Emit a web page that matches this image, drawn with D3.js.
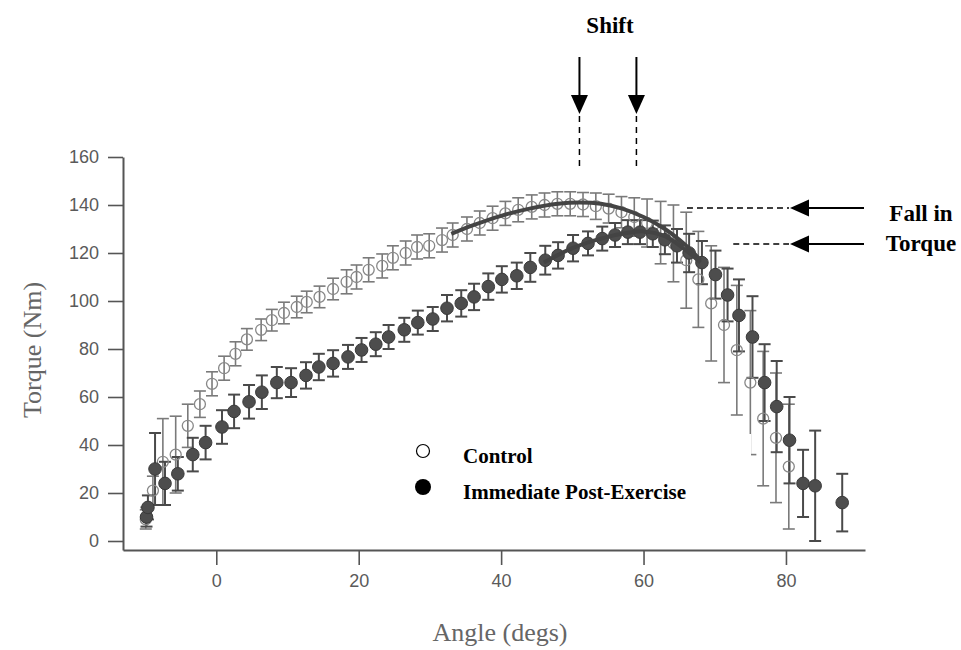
<!DOCTYPE html>
<html>
<head>
<meta charset="utf-8">
<script src="https://cdn.jsdelivr.net/npm/d3@7"></script>
<style>
  body { margin: 0; background: #fff; }
  svg { display: block; }
</style>
</head>
<body>
<svg class="view" width="961" height="650"></svg>
<script>
// Control (open circles): angle (degs), torque (Nm), error (Nm)
var controlAngle = [-9.9, -8.9, -7.5, -5.7, -4.0, -2.3, -0.6, 1.1, 2.7, 4.3, 6.3, 7.8, 9.5, 11.3, 12.7,
    14.5, 16.4, 18.3, 19.7, 21.4, 23.3, 24.8, 26.6, 28.2, 29.9, 31.7, 33.2, 35.2, 37.0, 38.8, 40.6,
    42.4, 44.3, 46.1, 47.9, 49.7, 51.5, 53.3, 55.1, 56.9, 58.7, 60.5, 62.4, 64.2, 66.0, 67.7, 69.5,
    71.3, 73.1, 75.0, 76.8, 78.6, 80.4];
var controlTorque = [9, 21, 33, 36, 48, 57, 65.5, 72, 78, 84, 88, 92, 95, 97.5, 99.6,
    101.7, 105, 108, 110, 113, 114.6, 118, 120, 122.5, 123, 125.4, 127.5, 130, 132.5, 134.5, 136.5,
    138, 139.2, 140, 140.5, 140.5, 140.2, 139.5, 138.5, 137, 135, 132.5, 128.5, 124, 117, 109, 99,
    90, 79.5, 66, 51, 43, 31];
var controlErr = [4, 6, 18, 16, 9, 5.5, 5, 5, 5, 4.5, 4.5, 4.5, 4.5, 4.5, 4.5,
    4.5, 4.5, 5, 5, 5, 5, 5, 5, 5, 5, 5, 5, 5, 5, 5, 5,
    5, 5, 5, 5, 5, 5, 5.5, 6, 6.5, 8, 10, 13, 16, 20, 20, 24,
    24, 27, 30, 28, 27, 26];

// Immediate post-exercise (filled circles)
var postAngle = [-9.8, -9.6, -8.6, -7.2, -5.4, -3.3, -1.5, 0.8, 2.5, 4.6, 6.4, 8.5, 10.5, 12.6, 14.4,
    16.4, 18.5, 20.4, 22.4, 24.2, 26.4, 28.3, 30.4, 32.4, 34.4, 36.2, 38.2, 40.1, 42.2, 44.1, 46.2,
    48.0, 50.1, 52.2, 54.2, 56.0, 57.8, 59.5, 61.3, 63.0, 64.7, 66.4, 68.2, 70.1, 71.8, 73.4, 75.3,
    77.0, 78.7, 80.5, 82.4, 84.1, 87.9];
var postTorque = [10, 14, 30, 24, 28, 36, 41, 47.5, 54, 58, 62, 66, 66, 69, 72.5,
    74, 76.7, 79.6, 82, 85, 88, 91, 92.5, 97, 99, 101.7, 106, 109, 110.5, 114, 117,
    119, 122, 124, 126, 127.5, 128.7, 128.7, 128, 125.5, 123, 120, 116, 111, 102.5, 94, 85,
    66, 56, 42, 24, 23, 16];
var postErr = [4, 5, 15, 9, 7, 7, 7, 7, 7, 7, 7, 6.5, 6, 5.5, 5.5,
    5.5, 5, 5, 5, 5, 5, 5, 5, 5.5, 5.5, 5.5, 5.5, 5.5, 5.5, 6, 6,
    5.5, 5.5, 5, 5, 5, 5, 5, 5.5, 6, 7, 8, 9, 10, 11, 15, 17,
    16, 19, 18, 14, 23, 12];

// fitted curves drawn over the peaks
var controlFitAngle = [33, 36, 40, 44, 48, 51, 54, 57, 60, 63, 66, 68];
var controlFitTorque = [128, 131.5, 135.5, 138.5, 140.5, 141, 140.5, 138.5, 135, 130, 123, 117];
var postFitAngle = [46, 50, 54, 58, 60, 63, 66, 68];
var postFitTorque = [116, 122, 126, 128.5, 129, 127, 121, 116];

var xTicks = [0, 20, 40, 60, 80];
var yTicks = [0, 20, 40, 60, 80, 100, 120, 140, 160];

var shiftAngles = [51, 59];
var fallTorques = [138.7, 123.8];
var fallDashStart = [66.1, 72.6];

var svg = d3.select('.view');

var x = d3.scaleLinear().domain([-13.1, 91.1]).range([123, 865]);
var y = d3.scaleLinear().domain([-3.75, 160]).range([550, 157]);

var control = controlAngle.map(function (a, i) {
    return {a: a, t: controlTorque[i], e: controlErr[i]};
});
var post = postAngle.map(function (a, i) {
    return {a: a, t: postTorque[i], e: postErr[i]};
});

// axes
var gx = svg.append('g')
    .attr('transform', 'translate(0,550)')
    .call(d3.axisBottom(x).tickValues(xTicks).tickSize(15).tickPadding(9).tickSizeOuter(0));
var gy = svg.append('g')
    .attr('transform', 'translate(123,0)')
    .call(d3.axisLeft(y).tickValues(yTicks).tickSize(15).tickPadding(9).tickSizeOuter(0));

[gx, gy].forEach(function (g) {
    g.select('.domain').attr('stroke', '#555').attr('stroke-width', 2);
    g.selectAll('.tick line').attr('stroke', '#555').attr('stroke-width', 1.6);
    g.selectAll('.tick text')
        .attr('fill', '#5a5a5a')
        .style('font-family', '"Liberation Sans", Arial, sans-serif')
        .style('font-size', '18px');
});

svg.append('text')
    .attr('x', 500).attr('y', 641)
    .attr('text-anchor', 'middle')
    .style('font-family', '"Liberation Serif", "Times New Roman", serif')
    .style('font-size', '26px')
    .attr('fill', '#666')
    .text('Angle (degs)');

svg.append('text')
    .attr('transform', 'translate(41,350) rotate(-90)')
    .attr('text-anchor', 'middle')
    .style('font-family', '"Liberation Serif", "Times New Roman", serif')
    .style('font-size', '26px')
    .attr('fill', '#666')
    .text('Torque (Nm)');

function errorBars(data, color, width) {
    var g = svg.append('g').attr('stroke', color).attr('stroke-width', width);
    g.selectAll('line.v').data(data).enter().append('line')
        .attr('x1', function (d) { return x(d.a); })
        .attr('x2', function (d) { return x(d.a); })
        .attr('y1', function (d) { return y(d.t + d.e); })
        .attr('y2', function (d) { return y(d.t - d.e); });
    ['+', '-'].forEach(function (s) {
        g.selectAll('line.c' + (s === '+' ? 'p' : 'm')).data(data).enter().append('line')
            .attr('x1', function (d) { return x(d.a) - 6; })
            .attr('x2', function (d) { return x(d.a) + 6; })
            .attr('y1', function (d) { return y(s === '+' ? d.t + d.e : d.t - d.e); })
            .attr('y2', function (d) { return y(s === '+' ? d.t + d.e : d.t - d.e); });
    });
}

errorBars(control, '#7a7a7a', 1.6);
errorBars(post, '#4a4a4a', 2);

svg.append('g').selectAll('circle').data(control).enter().append('circle')
    .attr('cx', function (d) { return x(d.a); })
    .attr('cy', function (d) { return y(d.t); })
    .attr('r', 5.5)
    .attr('fill', 'none')
    .attr('stroke', '#888')
    .attr('stroke-width', 1.3);

svg.append('g').selectAll('circle').data(post).enter().append('circle')
    .attr('cx', function (d) { return x(d.a); })
    .attr('cy', function (d) { return y(d.t); })
    .attr('r', 6.3)
    .attr('fill', '#4d4d4d')
    .attr('stroke', '#3a3a3a')
    .attr('stroke-width', 1);

var line = d3.line()
    .x(function (d) { return x(d[0]); })
    .y(function (d) { return y(d[1]); })
    .curve(d3.curveCatmullRom);

svg.append('path')
    .datum(d3.zip(controlFitAngle, controlFitTorque))
    .attr('d', line)
    .attr('fill', 'none')
    .attr('stroke', '#444')
    .attr('stroke-width', 4);
svg.append('path')
    .datum(d3.zip(postFitAngle, postFitTorque))
    .attr('d', line)
    .attr('fill', 'none')
    .attr('stroke', '#444')
    .attr('stroke-width', 4);

// legend (its white box clips a few bars)
svg.append('rect')
    .attr('x', 400).attr('y', 434).attr('width', 351).attr('height', 74)
    .attr('fill', '#fff');
svg.append('circle').attr('cx', 423).attr('cy', 451).attr('r', 6.5)
    .attr('fill', '#fff').attr('stroke', '#000').attr('stroke-width', 1.2);
svg.append('circle').attr('cx', 423).attr('cy', 487).attr('r', 8)
    .attr('fill', '#000');
var serifBold = function (sel, size) {
    return sel.style('font-family', '"Liberation Serif", "Times New Roman", serif')
        .style('font-weight', 'bold')
        .style('font-size', size + 'px')
        .attr('fill', '#000');
};
serifBold(svg.append('text').attr('x', 463).attr('y', 463).text('Control'), 21);
serifBold(svg.append('text').attr('x', 463).attr('y', 499).text('Immediate Post-Exercise'), 21);

// annotations
var ann = svg.append('g');
shiftAngles.forEach(function (a) {
    var px = x(a);
    ann.append('line').attr('x1', px).attr('x2', px).attr('y1', 57).attr('y2', 96)
        .attr('stroke', '#000').attr('stroke-width', 2);
    ann.append('path')
        .attr('d', 'M' + (px - 8.5) + ',95L' + (px + 8.5) + ',95L' + px + ',114Z')
        .attr('fill', '#000');
    ann.append('line').attr('x1', px).attr('x2', px).attr('y1', 116).attr('y2', 171)
        .attr('stroke', '#000').attr('stroke-width', 1.5).attr('stroke-dasharray', '6,5');
});
serifBold(ann.append('text').attr('x', 610).attr('y', 33).attr('text-anchor', 'middle').text('Shift'), 23);

fallTorques.forEach(function (t, i) {
    var py = y(t);
    ann.append('line').attr('x1', 808).attr('x2', 864).attr('y1', py).attr('y2', py)
        .attr('stroke', '#000').attr('stroke-width', 2);
    ann.append('path')
        .attr('d', 'M790,' + py + 'L809,' + (py - 8.5) + 'L809,' + (py + 8.5) + 'Z')
        .attr('fill', '#000');
    ann.append('line').attr('x1', x(fallDashStart[i])).attr('x2', 789).attr('y1', py).attr('y2', py)
        .attr('stroke', '#000').attr('stroke-width', 1.5).attr('stroke-dasharray', '6,4');
});
serifBold(ann.append('text').attr('x', 921).attr('y', 221).attr('text-anchor', 'middle').text('Fall in'), 23);
serifBold(ann.append('text').attr('x', 921).attr('y', 251).attr('text-anchor', 'middle').text('Torque'), 23);
</script>
</body>
</html>
